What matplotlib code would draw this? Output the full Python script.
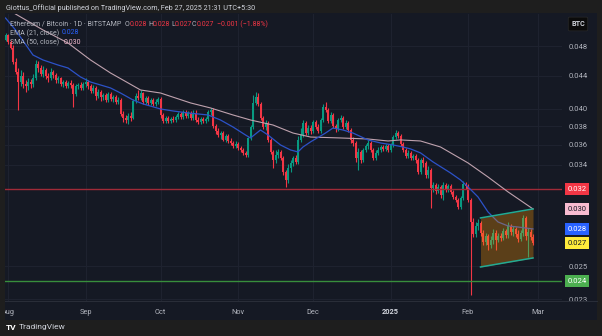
import matplotlib
matplotlib.use("Agg")
import matplotlib.pyplot as plt
import matplotlib.dates as mdates
import pandas as pd
from matplotlib.patches import Rectangle

plt.rcParams['font.family'] = ['Roboto', 'DejaVu Sans']

# ETH/BTC daily candles, Jul 31 2024 .. Feb 27 2025
dates = pd.date_range('2024-07-31', '2025-02-27', freq='D')

closes = [
    .04956, .04856, .04772, .04582, .04451, .04323, .04400, .04298, .04273, .04323,
    .04298, .04374, .04555, .04503, .04425, .04477, .04400, .04374, .04451, .04412,
    .04348, .04374, .04298, .04323, .04273, .04311, .04286, .04175, .04273, .04286,
    .04249, .04298, .04323, .04273, .04212, .04249, .04151, .04200, .04139, .04163,
    .04103, .04175, .04115, .04139, .04079, .04103, .03939, .03894, .03871, .03917,
    .03894, .04091, .04151, .04127, .04187, .04079, .04127, .04068, .04103, .04056,
    .04079, .04115, .03928, .03860, .03894, .03860, .03883, .03871, .03905, .03939,
    .03905, .03962, .03917, .03951, .03894, .03939, .03871, .03849, .03883, .03860,
    .03883, .03962, .03985, .03804, .03749, .03706, .03727, .03653, .03695, .03642,
    .03621, .03590, .03611, .03569, .03548, .03518, .03497, .03674, .03793, .04068,
    .04139, .04056, .03894, .03793, .03838, .03653, .03528, .03446, .03497, .03528,
    .03467, .03328, .03252, .03367, .03417, .03467, .03427, .03653, .03706, .03838,
    .03727, .03782, .03749, .03849, .03793, .03749, .03871, .04021, .03985, .03860,
    .03928, .03804, .03771, .03871, .03894, .03793, .03838, .03760, .03653, .03621,
    .03467, .03528, .03446, .03548, .03590, .03621, .03548, .03467, .03518, .03548,
    .03579, .03559, .03590, .03548, .03600, .03684, .03727, .03695, .03611, .03548,
    .03487, .03518, .03467, .03487, .03446, .03328, .03446, .03417, .03299, .03348,
    .03177, .03205, .03150, .03187, .03113, .03205, .03159, .03196, .03141, .03095,
    .03068, .03006, .03086, .03214, .03196, .03068, .02878, .02780, .02845, .02870,
    .02788, .02716, .02764, .02692, .02732, .02788, .02732, .02764, .02748, .02804,
    .02772, .02845, .02796, .02820, .02780, .02740, .02788, .02912, .02764, .02796,
    .02756, .02708,
]

opens = [
    .04884, .04956, .04856, .04772, .04582, .04451, .04323, .04400, .04298, .04273,
    .04323, .04298, .04374, .04555, .04503, .04425, .04477, .04400, .04374, .04451,
    .04412, .04348, .04374, .04298, .04323, .04273, .04311, .04286, .04175, .04273,
    .04286, .04249, .04298, .04323, .04273, .04212, .04249, .04151, .04200, .04139,
    .04163, .04103, .04175, .04115, .04139, .04079, .04103, .03939, .03894, .03871,
    .03917, .03894, .04091, .04151, .04127, .04187, .04079, .04127, .04068, .04103,
    .04056, .04079, .04115, .03928, .03860, .03894, .03860, .03883, .03871, .03905,
    .03939, .03905, .03962, .03917, .03951, .03894, .03939, .03871, .03849, .03883,
    .03860, .03883, .03962, .03985, .03804, .03749, .03706, .03727, .03653, .03695,
    .03642, .03621, .03590, .03611, .03569, .03548, .03518, .03497, .03674, .03793,
    .04068, .04139, .04056, .03894, .03793, .03838, .03653, .03528, .03446, .03497,
    .03528, .03467, .03328, .03252, .03367, .03417, .03467, .03427, .03653, .03706,
    .03838, .03727, .03782, .03749, .03849, .03793, .03749, .03871, .04021, .03985,
    .03860, .03928, .03804, .03771, .03871, .03894, .03793, .03838, .03760, .03653,
    .03621, .03467, .03528, .03446, .03548, .03590, .03621, .03548, .03467, .03518,
    .03548, .03579, .03559, .03590, .03548, .03600, .03684, .03727, .03695, .03611,
    .03548, .03487, .03518, .03467, .03487, .03446, .03328, .03446, .03417, .03299,
    .03348, .03177, .03205, .03150, .03187, .03113, .03205, .03159, .03196, .03141,
    .03095, .03068, .03006, .03086, .03214, .03196, .03068, .02878, .02780, .02845,
    .02870, .02788, .02716, .02764, .02692, .02732, .02788, .02732, .02764, .02748,
    .02804, .02772, .02845, .02796, .02820, .02780, .02740, .02788, .02912, .02764,
    .02796, .02756,
]

highs = [
    .04985, .04970, .04884, .04814, .04636, .04503, .04477, .04451, .04348, .04374,
    .04361, .04425, .04609, .04595, .04542, .04529, .04503, .04438, .04503, .04477,
    .04438, .04400, .04387, .04348, .04348, .04336, .04348, .04311, .04298, .04311,
    .04323, .04323, .04374, .04348, .04298, .04286, .04273, .04236, .04224, .04187,
    .04187, .04200, .04200, .04163, .04163, .04139, .04127, .03974, .03928, .03951,
    .03962, .04115, .04187, .04224, .04224, .04200, .04151, .04151, .04127, .04127,
    .04115, .04139, .04139, .03951, .03917, .03917, .03905, .03917, .03928, .03962,
    .03962, .03985, .03985, .03974, .03974, .03985, .03985, .03905, .03905, .03905,
    .03905, .03985, .04009, .04009, .03826, .03782, .03749, .03749, .03717, .03717,
    .03674, .03642, .03642, .03632, .03590, .03569, .03538, .03684, .03815, .04163,
    .04200, .04187, .04079, .03917, .03871, .03860, .03674, .03548, .03548, .03559,
    .03548, .03487, .03348, .03407, .03446, .03487, .03497, .03695, .03782, .03871,
    .03860, .03815, .03815, .03871, .03871, .03826, .03894, .04056, .04079, .04009,
    .03962, .03951, .03826, .03894, .03928, .03917, .03871, .03860, .03782, .03684,
    .03642, .03569, .03548, .03569, .03611, .03653, .03642, .03569, .03548, .03579,
    .03600, .03600, .03611, .03611, .03621, .03706, .03760, .03749, .03717, .03632,
    .03569, .03548, .03538, .03507, .03507, .03467, .03467, .03477, .03437, .03387,
    .03367, .03233, .03224, .03214, .03205, .03233, .03224, .03214, .03214, .03159,
    .03113, .03086, .03104, .03243, .03233, .03214, .03086, .02912, .02878, .02903,
    .02886, .02812, .02788, .02780, .02764, .02820, .02812, .02788, .02788, .02828,
    .02820, .02878, .02861, .02845, .02836, .02812, .02812, .02937, .02929, .02828,
    .02820, .02780,
]

lows = [
    .04870, .04828, .04758, .04555, .04425, .03985, .04273, .04249, .04200, .04224,
    .04249, .04261, .04348, .04451, .04400, .04387, .04361, .04323, .04348, .04374,
    .04311, .04311, .04273, .04261, .04249, .04249, .04249, .04021, .04151, .04236,
    .04224, .04224, .04261, .04236, .04187, .04187, .04103, .04127, .04091, .04103,
    .04079, .04079, .04091, .04079, .04056, .04056, .03917, .03849, .03838, .03826,
    .03860, .03883, .04068, .04103, .04103, .04056, .04056, .04044, .04044, .04032,
    .04032, .04056, .03894, .03838, .03838, .03838, .03838, .03849, .03849, .03883,
    .03883, .03883, .03894, .03894, .03871, .03871, .03849, .03826, .03826, .03838,
    .03838, .03860, .03928, .03782, .03717, .03684, .03663, .03642, .03632, .03621,
    .03600, .03569, .03569, .03548, .03528, .03497, .03477, .03477, .03653, .03771,
    .04044, .04032, .03871, .03771, .03760, .03632, .03507, .03367, .03417, .03467,
    .03446, .03299, .03187, .03224, .03328, .03387, .03407, .03407, .03632, .03684,
    .03706, .03706, .03717, .03727, .03771, .03727, .03727, .03849, .03962, .03838,
    .03838, .03782, .03738, .03749, .03849, .03771, .03771, .03738, .03621, .03590,
    .03427, .03348, .03417, .03427, .03528, .03559, .03528, .03446, .03446, .03497,
    .03528, .03538, .03538, .03528, .03528, .03579, .03663, .03674, .03590, .03528,
    .03467, .03467, .03446, .03446, .03417, .03309, .03309, .03377, .03271, .03271,
    .02998, .03141, .03122, .03132, .03086, .03068, .03141, .03141, .03122, .03077,
    .03050, .02989, .02989, .03068, .03168, .03050, .02328, .02756, .02756, .02812,
    .02764, .02692, .02692, .02653, .02669, .02700, .02653, .02716, .02724, .02732,
    .02748, .02748, .02772, .02764, .02756, .02716, .02724, .02764, .02732, .02600,
    .02732, .02692,
]

# moving averages, read at points along each line
ema_dates = ['2024-07-31', '2024-08-04', '2024-08-11', '2024-08-15', '2024-08-21', '2024-08-25',
             '2024-08-30', '2024-09-03', '2024-09-07', '2024-09-11', '2024-09-15', '2024-09-20',
             '2024-09-24', '2024-10-01', '2024-10-06', '2024-10-12', '2024-10-20', '2024-10-25',
             '2024-10-30', '2024-11-04', '2024-11-06', '2024-11-10', '2024-11-13', '2024-11-18',
             '2024-11-22', '2024-11-25', '2024-11-27', '2024-11-30', '2024-12-06', '2024-12-09',
             '2024-12-13', '2024-12-17', '2024-12-23', '2024-12-28', '2025-01-02', '2025-01-06',
             '2025-01-09', '2025-01-13', '2025-01-18', '2025-01-25', '2025-01-29', '2025-02-01',
             '2025-02-05', '2025-02-09', '2025-02-13', '2025-02-17', '2025-02-21', '2025-02-27']
ema_vals = [.05207, .05029, .04676, .04609, .04542, .04503, .04387, .04323, .04286, .04249,
            .04187, .04103, .04056, .03997, .03974, .03951, .03928, .03871, .03793, .03706,
            .03674, .03760, .03706, .03600, .03548, .03528, .03579, .03632, .03727, .03782,
            .03760, .03727, .03653, .03621, .03600, .03579, .03559, .03518, .03427, .03319,
            .03252, .03187, .03095, .02963, .02878, .02845, .02836, .02820]

sma_dates = ['2024-07-31', '2024-08-04', '2024-08-15', '2024-08-25', '2024-09-03', '2024-09-11',
             '2024-09-16', '2024-09-23', '2024-10-01', '2024-10-13', '2024-10-21', '2024-10-30',
             '2024-11-06', '2024-11-15', '2024-11-23', '2024-11-30', '2024-12-12', '2024-12-23',
             '2024-12-31', '2025-01-05', '2025-01-13', '2025-01-21', '2025-02-01', '2025-02-09',
             '2025-02-17', '2025-02-27']
sma_vals = [.05361, .05268, .05029, .04842, .04609, .04438, .04348, .04224, .04187, .04068,
            .04009, .03928, .03871, .03815, .03727, .03684, .03674, .03663, .03642, .03653,
            .03642, .03579, .03417, .03280, .03141, .02989]

# drawings
red_level = 0.03168
green_level = 0.02424
chan_dates = ['2025-02-06', '2025-02-27']
chan_top = [.02912, .02989]
chan_bot = [.02525, .02592]

price_ticks = [0.048, 0.044, 0.040, 0.038, 0.036, 0.034, 0.0253, 0.023]
month_dates = ['2024-08-01', '2024-09-01', '2024-10-01', '2024-11-01', '2024-12-01',
               '2025-01-01', '2025-02-01', '2025-03-01']
month_labels = ['Aug', 'Sep', 'Oct', 'Nov', 'Dec', '2025', 'Feb', 'Mar']

UP = '#089981'
DOWN = '#f23645'
BG = '#151924'
GRID = '#1f2330'
TXT = '#b2b5be'

W, H = 602, 336
fig = plt.figure(figsize=(W / 100, H / 100), dpi=100)
fig.patch.set_facecolor('#1e1e1e')


def fx(x):
    return x / W


def fy(y):
    return 1 - y / H


# chart panel background (behind the axes)
fig.patches.append(Rectangle((fx(5), fy(320)), fx(592), 307 / H, transform=fig.transFigure,
                             facecolor=BG, edgecolor='none', zorder=-5))

ax = fig.add_axes([fx(5), fy(301), 557 / W, 287 / H])
ax.set_facecolor('none')
ax.set_yscale('log')
ax.set_ylim(0.022872, 0.05268)
x0 = mdates.date2num(pd.Timestamp('2024-08-01'))
ax.set_xlim(x0 - 1.2, x0 + 221.6)

for t in price_ticks:
    ax.axhline(t, color=GRID, lw=0.7, zorder=0)
for m in month_dates:
    ax.axvline(mdates.date2num(pd.Timestamp(m)), color=GRID, lw=0.7, zorder=0)

xs = mdates.date2num(dates)
for x, o, h, l, c in zip(xs, opens, highs, lows, closes):
    col = UP if c >= o else DOWN
    ax.vlines(x, l, h, color=col, lw=0.8, zorder=2)
    ax.bar(x, c - o, bottom=o, width=0.8, color=col, lw=0, zorder=2)

ax.axhline(red_level, color='#a02a38', lw=1, zorder=3)
ax.axhline(green_level, color='#388e3c', lw=1, zorder=3)

ax.plot(mdates.date2num(pd.to_datetime(sma_dates)), sma_vals, color='#bfa2ae', lw=0.8, zorder=4)
ax.plot(mdates.date2num(pd.to_datetime(ema_dates)), ema_vals, color='#2c52c8', lw=0.9, zorder=4)

cx = mdates.date2num(pd.to_datetime(chan_dates))
ax.fill_between(cx, chan_bot, chan_top, color='#ff9800', alpha=0.3, lw=0, zorder=5)
ax.plot(cx, chan_top, color='#22ab94', lw=1.1, zorder=6)
ax.plot(cx, chan_bot, color='#22ab94', lw=1.1, zorder=6)

for s in ax.spines.values():
    s.set_visible(False)
ax.yaxis.tick_right()
ax.set_yticks(price_ticks)
ax.set_yticklabels(['%.3f' % t for t in price_ticks])
ax.yaxis.set_minor_locator(matplotlib.ticker.NullLocator())
ax.tick_params(axis='y', length=0, pad=5, labelsize=5.5, labelcolor=TXT)
ax.set_xticks([])

# price tags on the scale
tags = [(red_level, '#f23645', 'white'), (sma_vals[-1], '#f8bbd0', '#131722'),
        (ema_vals[-1], '#2962ff', 'white'), (closes[-1], '#ffeb3b', '#131722'),
        (green_level, '#4caf50', 'white')]
for v, fc, tc in tags:
    ax.text(1.027, v, '%.3f' % v, transform=ax.get_yaxis_transform(), ha='center', va='center',
            fontsize=5.5, color=tc, clip_on=False, zorder=10,
            bbox=dict(boxstyle='square,pad=0.35', fc=fc, ec='none'))

# time axis
fig.add_artist(plt.Line2D([fx(5), fx(597)], [fy(301), fy(301)], color='#2a2e39', lw=0.7))
tax = fig.add_axes([fx(5), fy(320), 557 / W, 19 / H])
tax.set_facecolor('none')
tax.set_xlim(ax.get_xlim())
tax.set_ylim(0, 1)
tax.axis('off')
for m, lab in zip(month_dates, month_labels):
    bold = lab == '2025'
    tax.text(mdates.date2num(pd.Timestamp(m)), 0.42, lab, ha='center', va='center', fontsize=5.3,
             color='#d1d4dc' if bold else TXT, weight='bold' if bold else 'normal', clip_on=True)

# header and legend
fs = 5.0
fig.text(fx(6), fy(8), 'Giottus_Official published on TradingView.com, Feb 27, 2025 21:31 UTC+5:30',
         fontsize=5.2, color='#d1d4dc', va='center')
y1 = fy(24)
fig.text(fx(10), y1, 'Ethereum / Bitcoin · 1D · BITSTAMP', fontsize=fs, color=TXT, va='center')
for x, s, c in [(125, 'O', TXT), (130, '0.028', DOWN), (148, 'H', TXT), (153, '0.028', DOWN),
                (171, 'L', TXT), (175, '0.027', DOWN), (192, 'C', TXT), (197, '0.027', DOWN),
                (217, '−0.001 (−1.88%)', DOWN)]:
    fig.text(fx(x), y1, s, fontsize=fs, color=c, va='center')
fig.text(fx(10), fy(33), 'EMA (21, close)', fontsize=fs, color=TXT, va='center')
fig.text(fx(62), fy(33), '%.3f' % ema_vals[-1], fontsize=fs, color='#2962ff', va='center')
fig.text(fx(10), fy(42), 'SMA (50, close)', fontsize=fs, color=TXT, va='center')
fig.text(fx(64), fy(42), '%.3f' % sma_vals[-1], fontsize=fs, color='#f8bbd0', va='center')

fig.text(fx(578), fy(24), 'BTC', fontsize=5.2, color='#d1d4dc', ha='center', va='center',
         weight='bold', bbox=dict(boxstyle='round,pad=0.4,rounding_size=0.2', fc='#0b0b0b', ec='#2a2a2a', lw=0.5))

# footer
fig.text(fx(6), fy(327), 'TV', fontsize=6, color='white', weight='bold', va='center')
fig.text(fx(19), fy(327), 'TradingView', fontsize=6, color='#d1d4dc', va='center')

fig.savefig('out.png', dpi=100, facecolor=fig.get_facecolor())
